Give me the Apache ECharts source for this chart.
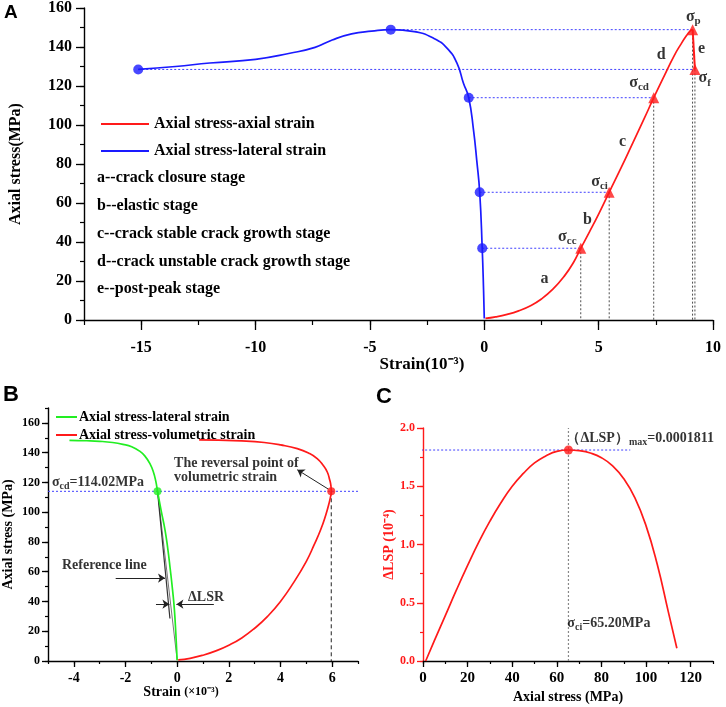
<!DOCTYPE html>
<html>
<head>
<meta charset="utf-8">
<title>Stress-strain stages</title>
<script src="https://cdn.jsdelivr.net/npm/echarts@6/dist/echarts.min.js"></script>
<style>
html,body{margin:0;padding:0;background:#fff;}
#main{width:726px;height:707px;}
</style>
</head>
<body>
<div id="main"></div>
<script>
// ---------- panel A ----------
var axialCurveA = [[0.05,0.8],[0.5,1.6],[1,2.9],[1.5,4.7],[2,7.2],[2.5,10.8],[3,15.8],[3.5,22.5],[3.9,29.5],
  [4.22,36.8],[4.6,45.2],[5,54.3],[5.46,65.5],[6,78.5],[6.5,91],[7,103.5],[7.41,114],[7.9,126],[8.3,135.5],
  [8.6,141.5],[8.85,146],[9,148.2],[9.11,149]];
var lateralCurveA = [[-15.13,128.5],[-13.5,130],[-12,131.8],[-10,133.7],[-8.5,136.8],[-7.4,139.8],[-6.65,143.6],
  [-5.8,146.7],[-4.93,148.1],[-4.09,148.9],[-3.06,147.9],[-2.2,144.4],[-1.62,139.3],[-1.19,131.6],[-0.91,121.4],
  [-0.68,114],[-0.47,97.4],[-0.33,82],[-0.2,65.5],[-0.09,36.8],[-0.03,15],[0,0.8]];
var stageNames = ['cc','ci','cd','p','f'];
var stageStress = [36.8, 65.5, 114, 148.9, 128.5];
var stageAxialStrain = [4.22, 5.46, 7.41, 9.11, 9.21];
var stageLateralStrain = [-0.09, -0.2, -0.68, -4.09, -15.13];
var stageLabelPosA = [[3.63,42.7],[5.04,71],[6.77,121.7],[9.14,155.5],[9.64,124]];
var phaseLetters = ['a','b','c','d','e'];
var phaseLetterPosA = [[2.63,21],[4.51,51.6],[6.05,91.4],[7.74,136],[9.5,139]];
var stageNotes = ['a--crack closure stage','b--elastic stage','c--crack stable crack growth stage',
  'd--crack unstable crack growth stage','e--post-peak stage'];
var ticksAX = [-15,-10,-5,0,5,10];
var ticksAY = [0,20,40,60,80,100,120,140,160];

// ---------- panel B ----------
var lateralCurveB = [[-4.17,148.3],[-3.5,148],[-3,147.6],[-2.5,146.8],[-2.1,145.6],[-1.76,144],[-1.45,141],
  [-1.24,137.5],[-1.05,132.5],[-0.92,127],[-0.83,121],[-0.76,114],[-0.62,101],[-0.47,88],[-0.36,75],
  [-0.27,62],[-0.18,48],[-0.11,35],[-0.05,18],[0,0.5]];
var volumetricCurveB = [[0.04,0.7],[0.5,1.8],[1,3.9],[1.5,6.8],[2,10.6],[2.5,15.5],[3,22],[3.5,30],[4,40],
  [4.5,52.5],[5,67],[5.3,78],[5.55,88],[5.75,98],[5.88,106],[5.95,111.5],[5.965,114],[5.95,118],[5.9,122],
  [5.81,127],[5.65,131.5],[5.42,136],[5.1,139.6],[4.65,142.7],[4,145.2],[3.37,146.8],[2.5,147.9],[1.6,148.4],
  [0.85,148.6]];
var cdStressB = 114.02;
var cdLateralB = -0.76;
var reversalStrainB = 5.965;
var referenceLineB = [[-0.76,114],[-0.28,28.6]];
var chordLineB = [[-0.76,114],[0,0.5]];
var ticksBX = [-4,-2,0,2,4,6];
var ticksBY = [0,20,40,60,80,100,120,140,160];

// ---------- panel C ----------
var lspCurveC = [[1.2,0],[5,0.17],[10,0.39],[15,0.61],[20,0.82],[25,1.02],[30,1.2],[35,1.36],[40,1.5],
  [45,1.61],[50,1.7],[55,1.76],[60,1.8],[65.2,1.811],[70,1.805],[75,1.785],[80,1.745],[85,1.675],[90,1.565],
  [95,1.4],[100,1.16],[105,0.83],[110,0.42],[113.8,0.11]];
var ciStressC = 65.2;
var lspMaxC = 1.811;
var ticksCX = [0,20,40,60,80,100,120];
var ticksCY = [0,0.5,1,1.5,2];

var FONT = "'Liberation Serif','Times New Roman',serif";
var RED = '#ff1a1a', BLUE = '#1a1aff', GREEN = '#22ee22';

function axisPair(dim, grid, min, max, values, step, o) {
  var col = o.color || '#000';
  var pos = dim === 'x' ? 'bottom' : 'left';
  var main = {
    type: 'value', gridIndex: grid, min: min, max: max, position: pos,
    axisLine: {onZero: false, lineStyle: {color: col, width: 1.4}},
    axisTick: {customValues: values, length: o.major, lineStyle: {color: col, width: 1.3}},
    axisLabel: {customValues: values, margin: o.margin, color: col, fontFamily: FONT, fontWeight: 'bold',
      fontSize: o.fs, formatter: o.fmt},
    splitLine: {show: false}
  };
  if (o.name) {
    main.name = o.name;
    main.nameLocation = 'middle';
    main.nameGap = o.nameGap;
    main.nameTextStyle = {fontFamily: FONT, fontWeight: 'bold', fontSize: o.nameSize, color: col};
  }
  var minor = {
    type: 'value', gridIndex: grid, min: min, max: max, interval: step, position: pos,
    axisLine: {show: false, onZero: false},
    axisTick: {length: o.minor, lineStyle: {color: col, width: 1.2}},
    axisLabel: {show: false}, splitLine: {show: false}
  };
  return [main, minor];
}

function lineS(name, data, g, color, width, type, smooth) {
  return {type: 'line', name: name, data: data, xAxisIndex: g * 2, yAxisIndex: g * 2,
    showSymbol: false, symbol: 'none', smooth: smooth, color: color,
    lineStyle: {color: color, width: width, type: type}, itemStyle: {color: color},
    clip: false, silent: true, animation: false};
}

function dotS(data, g, symbol, size, color) {
  return {type: 'scatter', data: data, xAxisIndex: g * 2, yAxisIndex: g * 2, symbol: symbol,
    symbolSize: size, itemStyle: {color: color}, silent: true, animation: false, z: 5};
}

function textS(items, g, fs, align, color) {
  return {type: 'scatter', xAxisIndex: g * 2, yAxisIndex: g * 2, symbolSize: 0, silent: true, animation: false,
    data: items.map(function (d) { return {value: [d[0], d[1]], txt: d[2]}; }),
    label: {show: true, position: 'inside', align: align, verticalAlign: 'middle', color: color,
      fontFamily: FONT, fontWeight: 'bold', fontSize: fs,
      formatter: function (p) { return p.data.txt; },
      rich: {
        s: {fontFamily: FONT, fontWeight: 'bold', fontSize: fs, color: color},
        sub: {fontFamily: FONT, fontWeight: 'bold', fontSize: Math.round(fs * 0.68), color: color,
          padding: [Math.round(fs * 0.55), 0, 0, 0]}
      }}, z: 6};
}

var xAxes = [].concat(
  axisPair('x', 0, -17.5, 10, ticksAX, 2.5, {major: 10, minor: 5, margin: 20, fs: 16}),
  axisPair('x', 1, -5, 7, ticksBX, 1, {major: 6, minor: 3, margin: 10, fs: 14}),
  axisPair('x', 2, 0, 130, ticksCX, 10, {major: 6, minor: 3, margin: 10, fs: 15,
    name: 'Axial stress (MPa)', nameGap: 29, nameSize: 14})
);
var yAxes = [].concat(
  axisPair('y', 0, 0, 160, ticksAY, 10, {major: 8, minor: 4, margin: 12, fs: 16,
    name: 'Axial stress(MPa)', nameGap: 60, nameSize: 16}),
  axisPair('y', 1, 0, 170, ticksBY, 10, {major: 6, minor: 3, margin: 8, fs: 12,
    name: 'Axial stress (MPa)', nameGap: 33, nameSize: 14}),
  axisPair('y', 2, 0, 2, ticksCY, 0.25, {major: 6, minor: 3, margin: 8, fs: 12, color: RED,
    fmt: function (v) { return v.toFixed(1); }, name: 'ΔLSP (10⁻⁴)', nameGap: 27, nameSize: 14})
);

var series = [];
// panel A
stageNames.forEach(function (n, i) {
  series.push(lineS('', [[stageLateralStrain[i], stageStress[i]], [stageAxialStrain[i], stageStress[i]]],
    0, '#4040ff', 1, [2, 2], false));
  series.push(lineS('', [[stageAxialStrain[i], stageStress[i]], [stageAxialStrain[i], 0]],
    0, '#222', 0.8, [2, 2], false));
});
series.push(lineS('A: Axial stress-axial strain', axialCurveA, 0, RED, 1.7, 'solid', true));
series.push(lineS('', [[stageAxialStrain[3], stageStress[3]], [stageAxialStrain[4], stageStress[4]]],
  0, RED, 2, 'solid', false));
series.push(lineS('A: Axial stress-lateral strain', lateralCurveA, 0, BLUE, 1.7, 'solid', true));
series.push(dotS(stageStress.map(function (s, i) { return [stageAxialStrain[i], s]; }), 0, 'triangle', 11, RED));
series.push(dotS(stageStress.map(function (s, i) { return [stageLateralStrain[i], s]; }), 0, 'circle', 10, BLUE));
series.push(textS(stageNames.map(function (n, i) {
  return [stageLabelPosA[i][0], stageLabelPosA[i][1], '{s|σ}{sub|' + n + '}'];
}), 0, 16, 'center', '#000'));
series.push(textS(phaseLetters.map(function (l, i) {
  return [phaseLetterPosA[i][0], phaseLetterPosA[i][1], l];
}), 0, 16, 'center', '#000'));

// panel B
series.push(lineS('', [[-5, cdStressB], [7, cdStressB]], 1, '#4040ff', 1, [2, 2], false));
series.push(lineS('', [[reversalStrainB, cdStressB], [reversalStrainB, 0]], 1, '#222', 1, [4, 3], false));
series.push(lineS('', chordLineB, 1, '#777', 1, 'solid', false));
series.push(lineS('', referenceLineB, 1, '#333', 1.2, 'solid', false));
var latB = lineS('B: Axial stress-lateral strain', lateralCurveB, 1, GREEN, 1.7, 'solid', true);
latB.markLine = {
  silent: true, animation: false, symbol: ['none', 'arrow'], symbolSize: 7,
  label: {show: false}, lineStyle: {color: '#222', width: 1, type: 'solid'},
  data: [
    [{coord: [5.85, 115.5]}, {coord: [4.65, 128.5]}],
    [{coord: [-2.38, 55.7]}, {coord: [-0.47, 55.7]}],
    [{coord: [-0.82, 38.2]}, {coord: [-0.3, 38.2]}],
    [{coord: [1.42, 38.2]}, {coord: [-0.03, 38.2]}]
  ]
};
series.push(latB);
series.push(lineS('B: Axial stress-volumetric strain', volumetricCurveB, 1, RED, 1.7, 'solid', true));
series.push(dotS([[cdLateralB, cdStressB]], 1, 'circle', 8, GREEN));
series.push(dotS([[reversalStrainB, cdStressB]], 1, 'circle', 8, RED));
series.push(textS([[-4.85, 120, '{s|σ}{sub|cd}{s|=114.02MPa}']], 1, 14, 'left', '#000'));
series.push(textS([[-0.12, 128, 'The reversal point of\nvolumetric strain'], [-4.46, 64, 'Reference line'],
  [0.42, 43, 'ΔLSR']], 1, 14, 'left', '#000'));

// panel C
series.push(lineS('', [[-9.8, lspMaxC], [92.9, lspMaxC]], 2, '#4040ff', 1, [2, 2], false));
series.push(lineS('', [[ciStressC, 0], [ciStressC, 2]], 2, '#888', 1.2, [2, 2], false));
series.push(lineS('C: ΔLSP', lspCurveC, 2, RED, 1.7, 'solid', true));
series.push(dotS([[ciStressC, lspMaxC]], 2, 'circle', 9, RED));
series.push(textS([[64.3, 1.91, '{s|（ΔLSP）}{sub|max}{s|=0.0001811}'], [64.7, 0.326, '{s|σ}{sub|ci}{s|=65.20MPa}']],
  2, 14, 'left', '#000'));

function stripPrefix(n) { return n.replace(/^[AB]: /, ''); }

var graphics = [
  {type: 'text', left: 4, top: 3, style: {text: 'A', font: "bold 19px 'Liberation Sans', Arial, sans-serif", fill: '#000'}},
  {type: 'text', left: 3, top: 384, style: {text: 'B', font: "bold 22px 'Liberation Sans', Arial, sans-serif", fill: '#000'}},
  {type: 'text', left: 376, top: 386, style: {text: 'C', font: "bold 22px 'Liberation Sans', Arial, sans-serif", fill: '#000'}},
  {type: 'text', x: 422, y: 365, style: {text: 'Strain(10⁻³)', align: 'center', verticalAlign: 'middle',
    font: "bold 17px " + FONT, fill: '#000'}},
  {type: 'text', x: 181, y: 692, style: {text: '{a|Strain }{b|(×10⁻³)}', align: 'center', verticalAlign: 'middle',
    rich: {a: {fontFamily: FONT, fontWeight: 'bold', fontSize: 14, fill: '#000'},
      b: {fontFamily: FONT, fontWeight: 'bold', fontSize: 12, fill: '#000'}}}}
];
stageNotes.forEach(function (t, i) {
  graphics.push({type: 'text', left: 97, top: 170 + i * 27.8,
    style: {text: t, font: "bold 16px " + FONT, fill: '#000'}});
});

var myChart = echarts.init(document.getElementById('main'));
var option = {
  backgroundColor: '#fff',
  animation: false,
  grid: [
    {left: 77, top: 8, width: 636, height: 312},
    {left: 48, top: 408, width: 310, height: 253},
    {left: 423, top: 428, width: 290, height: 233}
  ],
  xAxis: xAxes,
  yAxis: yAxes,
  legend: [
    {data: ['A: Axial stress-axial strain', 'A: Axial stress-lateral strain'], orient: 'vertical',
      left: 96, top: 111, itemWidth: 48, itemHeight: 2, itemGap: 11, icon: 'rect', selectedMode: false,
      formatter: stripPrefix, textStyle: {fontFamily: FONT, fontWeight: 'bold', fontSize: 16, color: '#000'}},
    {data: ['B: Axial stress-lateral strain', 'B: Axial stress-volumetric strain'], orient: 'vertical',
      left: 51, top: 405, itemWidth: 21, itemHeight: 2, itemGap: 4, icon: 'rect', selectedMode: false,
      formatter: stripPrefix, textStyle: {fontFamily: FONT, fontWeight: 'bold', fontSize: 14, color: '#000',
        padding: [0, 0, 0, -3]}}
  ],
  graphic: graphics,
  series: series
};
myChart.setOption(option);
</script>
</body>
</html>
